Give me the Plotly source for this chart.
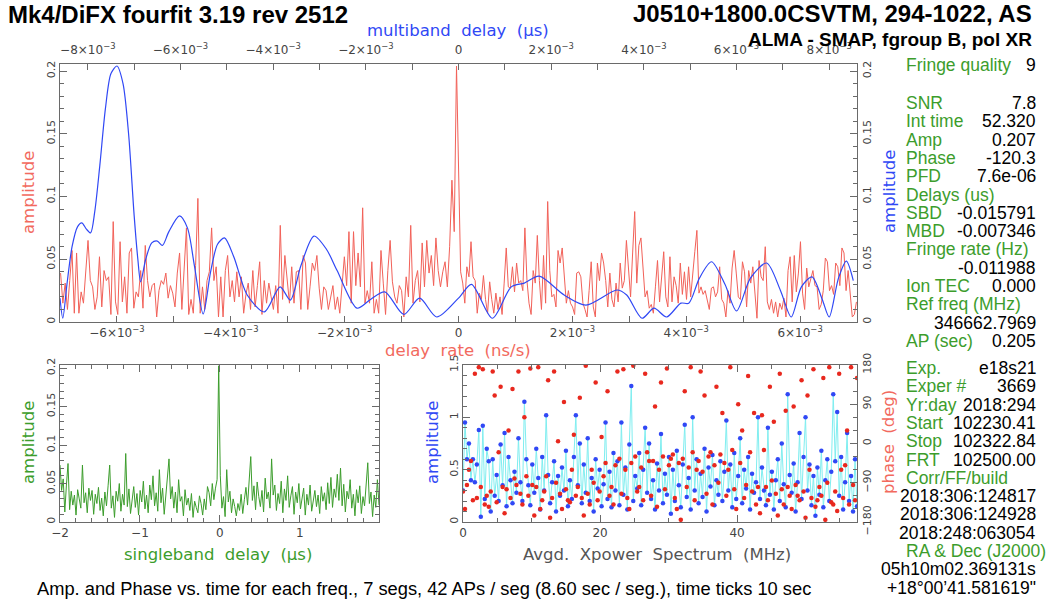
import numpy as np
import plotly.graph_objects as go

W, H = 1048, 603

# ---------------- data ----------------
# delay-rate spectrum (ns/s), left of the peak, the peak, right of the peak
rate_amp_left = [
    0.039, 0.015, 0.031, 0.010, 0.033, 0.057, 0.007, 0.055, 0.007, 0.024,
    0.015, 0.041, 0.065, 0.033, 0.028, 0.010, 0.020, 0.052, 0.012, 0.041,
    0.033, 0.036, 0.006, 0.080, 0.016, 0.006, 0.064, 0.016, 0.036, 0.007,
    0.055, 0.059, 0.011, 0.024, 0.020, 0.041, 0.011, 0.061, 0.033, 0.020,
    0.029, 0.031, 0.004, 0.025, 0.033, 0.030, 0.039, 0.019, 0.029, 0.023,
    0.012, 0.039, 0.055, 0.010, 0.041, 0.075, 0.006, 0.018, 0.007, 0.045,
    0.0985, 0.007, 0.028, 0.010, 0.033, 0.040, 0.075, 0.033, 0.044, 0.004,
    0.036, 0.004, 0.041, 0.053, 0.020, 0.033, 0.016, 0.040, 0.020, 0.036,
    0.007, 0.022, 0.031, 0.010, 0.041, 0.012, 0.029, 0.048, 0.006, 0.033,
    0.015, 0.031, 0.020, 0.010, 0.029, 0.007, 0.077, 0.018, 0.053, 0.033,
    0.015, 0.044, 0.015, 0.040, 0.041, 0.010, 0.053, 0.047, 0.010, 0.028,
    0.047, 0.041, 0.053, 0.027, 0.010, 0.028, 0.025, 0.010, 0.020, 0.029,
    0.010, 0.020, 0.007, 0.033, 0.052, 0.029, 0.072, 0.015, 0.072, 0.029,
    0.055, 0.028, 0.091, 0.015, 0.025, 0.015, 0.048, 0.007, 0.018, 0.007,
    0.057, 0.031, 0.006, 0.041, 0.065, 0.032, 0.020, 0.015, 0.029, 0.025,
    0.004, 0.036, 0.020, 0.077, 0.015, 0.033, 0.041, 0.016, 0.063, 0.028,
    0.065, 0.039, 0.053, 0.029, 0.067, 0.041, 0.028, 0.040, 0.048, 0.028,
    0.060, 0.113, 0.072,
]
rate_amp_peak = 0.204
rate_peak_pos = -0.035e-3
rate_amp_right = [
    0.115, 0.040,
    0.031, 0.015, 0.044, 0.036, 0.064, 0.036, 0.033, 0.007, 0.023, 0.018,
    0.037, 0.018, 0.007, 0.032, 0.018, 0.007, 0.023, 0.010, 0.020, 0.006,
    0.031, 0.059, 0.028, 0.027, 0.044, 0.024, 0.047, 0.031, 0.033, 0.025,
    0.075, 0.033, 0.015, 0.006, 0.041, 0.031, 0.069, 0.033, 0.010, 0.053,
    0.015, 0.096, 0.041, 0.020, 0.022, 0.012, 0.057, 0.047, 0.059, 0.039,
    0.015, 0.025, 0.015, 0.012, 0.006, 0.039, 0.040, 0.036, 0.015, 0.010,
    0.004, 0.025, 0.048, 0.012, 0.004, 0.047, 0.033, 0.055, 0.047, 0.033,
    0.012, 0.039, 0.018, 0.012, 0.031, 0.016, 0.047, 0.027, 0.033, 0.065,
    0.039, 0.020, 0.055, 0.088, 0.031, 0.061, 0.067, 0.044, 0.020, 0.025,
    0.011, 0.014, 0.007, 0.028, 0.049, 0.016, 0.033, 0.056, 0.020, 0.012,
    0.052, 0.016, 0.036, 0.029, 0.015, 0.047, 0.022, 0.040, 0.018, 0.044,
    0.020, 0.041, 0.056, 0.073, 0.023, 0.028, 0.022, 0.025, 0.018, 0.010,
    0.027, 0.028, 0.020, 0.024, 0.044, 0.018, 0.015, 0.004, 0.025, 0.015,
    0.043, 0.057, 0.039, 0.020, 0.018, 0.048, 0.040, 0.012, 0.041, 0.031,
    0.044, 0.025, 0.003, 0.049, 0.036, 0.033, 0.060, 0.016, 0.010, 0.018,
    0.007, 0.016, 0.004, 0.015, 0.010, 0.019, 0.004, 0.041, 0.052, 0.016,
    0.053, 0.024, 0.039, 0.064, 0.023, 0.010, 0.043, 0.028, 0.035, 0.041,
    0.029, 0.028, 0.010, 0.014, 0.025, 0.051, 0.048, 0.025, 0.029, 0.022,
    0.047, 0.044, 0.029, 0.059, 0.055, 0.025, 0.041, 0.020, 0.004, 0.006,
    0.016,
]
rate_min, rate_max = -6.99e-3, 6.99e-3

# multiband delay (us) and amplitude
mbd_delay = [
    -8.60e-3, -8.54e-3, -8.45e-3, -8.34e-3, -8.22e-3, -8.13e-3, -8.03e-3, -7.94e-3,
    -7.85e-3, -7.74e-3, -7.62e-3, -7.50e-3, -7.37e-3, -7.24e-3, -7.12e-3, -7.00e-3,
    -6.92e-3, -6.86e-3, -6.75e-3, -6.62e-3, -6.50e-3, -6.39e-3, -6.25e-3, -6.02e-3,
    -5.85e-3, -5.70e-3, -5.51e-3, -5.35e-3, -5.20e-3, -5.05e-3, -4.85e-3, -4.56e-3,
    -4.19e-3, -3.85e-3, -3.63e-3, -3.40e-3, -3.12e-3, -2.85e-3, -2.62e-3, -2.19e-3,
    -1.90e-3, -1.59e-3, -1.18e-3, -0.84e-3, -0.47e-3, 0.00e-3, 0.28e-3, 0.73e-3,
    1.14e-3, 1.42e-3, 1.74e-3, 2.28e-3, 2.75e-3, 3.42e-3, 3.63e-3, 3.96e-3,
    4.22e-3, 4.49e-3, 4.80e-3, 4.97e-3, 5.20e-3, 5.46e-3, 5.75e-3, 6.00e-3,
    6.30e-3, 6.65e-3, 6.95e-3, 7.18e-3, 7.40e-3, 7.63e-3, 7.85e-3, 8.00e-3,
    8.20e-3, 8.37e-3, 8.52e-3,
]
mbd_amp = [
    0.019, 0.003, 0.030, 0.060, 0.076, 0.079, 0.074, 0.071,
    0.088, 0.125, 0.170, 0.198, 0.204, 0.190, 0.150, 0.085,
    0.050, 0.032, 0.050, 0.063, 0.0645, 0.061, 0.072, 0.0845,
    0.075, 0.045, 0.0064, 0.040, 0.062, 0.067, 0.052, 0.0215,
    0.008, 0.028, 0.0175, 0.045, 0.0685, 0.058, 0.041, 0.011,
    0.018, 0.024, 0.006, 0.019, 0.004, 0.019, 0.030, 0.003,
    0.028, 0.031, 0.0365, 0.0215, 0.0135, 0.0255, 0.0215, 0.003,
    0.011, 0.004, 0.015, 0.015, 0.035, 0.048, 0.030, 0.0088,
    0.035, 0.047, 0.025, 0.004, 0.028, 0.036, 0.018, 0.004,
    0.035, 0.0485, 0.033,
]

# singleband delay (us) spectrum
sbd_min, sbd_max = -2.0, 1.99
sbd_amp = [
    0.074, 0.041, 0.056, 0.013, 0.048, 0.076, 0.016, 0.040, 0.022, 0.035,
    0.009, 0.042, 0.030, 0.018, 0.074, 0.025, 0.038, 0.012, 0.044, 0.028,
    0.041, 0.010, 0.036, 0.024, 0.045, 0.015, 0.031, 0.008, 0.039, 0.021,
    0.047, 0.074, 0.018, 0.034, 0.006, 0.040, 0.027, 0.050, 0.014, 0.036,
    0.022, 0.089, 0.020, 0.043, 0.011, 0.032, 0.046, 0.019, 0.037, 0.009,
    0.041, 0.026, 0.053, 0.017, 0.035, 0.012, 0.048, 0.029, 0.060, 0.021,
    0.038, 0.014, 0.068, 0.025, 0.044, 0.010, 0.036, 0.052, 0.082, 0.030,
    0.046, 0.018, 0.039, 0.012, 0.055, 0.027, 0.033, 0.008, 0.042, 0.022,
    0.031, 0.015, 0.037, 0.006, 0.027, 0.019, 0.012, 0.034, 0.024, 0.009,
    0.030, 0.016, 0.046, 0.038, 0.021, 0.050, 0.029, 0.044, 0.055, 0.203,
    0.060, 0.018, 0.033, 0.007, 0.068, 0.026, 0.040, 0.012, 0.030, 0.020,
    0.008, 0.024, 0.015, 0.036, 0.011, 0.029, 0.045, 0.022, 0.063, 0.085,
    0.028, 0.047, 0.016, 0.052, 0.033, 0.020, 0.041, 0.013, 0.057, 0.030,
    0.039, 0.018, 0.082, 0.035, 0.048, 0.015, 0.037, 0.024, 0.053, 0.012,
    0.043, 0.028, 0.060, 0.019, 0.034, 0.046, 0.010, 0.039, 0.025, 0.050,
    0.017, 0.031, 0.044, 0.009, 0.036, 0.022, 0.048, 0.014, 0.030, 0.041,
    0.020, 0.035, 0.011, 0.046, 0.027, 0.038, 0.016, 0.051, 0.024, 0.058,
    0.019, 0.043, 0.032, 0.062, 0.028, 0.070, 0.021, 0.049, 0.013, 0.040,
    0.030, 0.055, 0.018, 0.036, 0.008, 0.042, 0.025, 0.047, 0.011, 0.033,
    0.021, 0.050, 0.077, 0.024, 0.039, 0.007, 0.035, 0.019, 0.055, 0.022,
]

# averaged cross-power spectrum (MHz): amplitude and phase (deg)
xp_min, xp_max = 0.0, 57.5
xp_amp = [
    0.30, 0.95, 0.60, 0.75, 0.40, 0.60, 0.38, 0.55, 0.88, 0.05,
    0.92, 0.22, 0.70, 0.58, 0.10, 0.60, 0.25, 0.45, 0.20, 0.74,
    0.35, 0.85, 0.15, 0.62, 0.40, 0.18, 0.48, 0.28, 0.80, 0.38,
    0.20, 1.15, 0.60, 0.35, 0.16, 0.55, 0.28, 0.70, 0.42, 0.12,
    0.62, 0.30, 1.02, 0.45, 0.18, 0.38, 0.58, 0.10, 0.44, 0.25,
    0.52, 0.30, 0.68, 0.15, 0.40, 0.22, 0.62, 1.02, 0.35, 0.75,
    0.18, 0.55, 0.28, 0.80, 0.20, 0.42, 0.10, 0.60, 0.32, 0.50,
    0.15, 0.36, 0.95, 0.22, 0.48, 0.14, 0.66, 0.30, 0.58, 0.16,
    0.95, 0.26, 0.52, 0.12, 0.74, 1.30, 0.20, 0.44, 0.32, 0.66,
    0.16, 0.50, 0.90, 0.28, 0.75, 0.22, 0.40, 0.12, 0.56, 0.30,
    0.84, 0.18, 0.46, 0.26, 0.62, 0.08, 0.50, 0.20, 0.68, 0.35,
    0.14, 0.55, 0.93, 0.24, 0.42, 0.12, 1.00, 0.30, 0.60, 0.18,
    0.46, 0.24, 0.70, 0.10, 0.52, 0.34, 0.64, 0.16, 0.40, 0.26,
    0.58, 0.20, 0.48, 0.97, 0.30, 0.55, 0.14, 0.66, 0.22, 0.44,
    0.80, 0.18, 0.50, 0.32, 0.62, 0.12, 0.46, 0.28, 0.38, 1.00,
    0.22, 0.52, 0.30, 0.16, 0.90, 0.26, 0.48, 0.12, 0.40, 0.60,
    0.20, 0.75, 0.36, 0.14, 1.22, 0.45, 0.28, 0.56, 0.10, 0.38,
    0.85, 0.22, 0.62, 1.00, 0.30, 0.55, 0.16, 0.44, 0.06, 0.52,
    0.26, 0.68, 0.14, 0.40, 0.60, 0.20, 0.48, 1.22, 0.58, 1.05,
    0.25, 0.62, 0.12, 0.38, 0.85, 0.20, 0.44, 0.10, 0.60, 0.15,
]
xp_phase = [
    -110, -150, -95, -60, -40, -130, 160, -125, 175, -100,
    170, -140, -120, -145, -110, 165, 110, -135, -20, 130,
    -100, -160, -105, 30, -125, 125, -80, -95, 165, -115,
    -140, 60, -75, -120, 172, -95, -165, -100, 175, -150,
    -130, -110, -75, 145, -170, -125, 165, -90, 5, -115,
    -150, 95, -105, -130, -135, -60, 20, -120, -100, 105,
    -125, -165, 178, -115, -140, -60, -90, 140, -130, -110,
    15, -75, -45, 120, -120, -100, -140, -50, 165, -35,
    -115, 170, -60, -125, -150, -45, 178, -30, -110, -100,
    -55, -130, 160, -20, -40, -120, -40, 85, -145, -60,
    140, -30, -105, 172, -50, -35, -25, -125, -150, -45,
    -175, -35, 120, -100, -55, 175, -20, -130, -60, -40,
    165, -65, 110, -115, -30, -20, -140, -50, 130, -90,
    -25, 70, -45, -120, -60, 175, -15, -105, -150, 90,
    -45, 30, -125, -95, 155, -20, -110, 70, -140, -100,
    -160, 65, -15, -100, -130, 130, -85, 50, -115, -165,
    160, -105, -140, 75, -100, -120, -150, 85, -95, -120,
    -130, 145, -110, -170, 110, -60, -125, 170, -145, -130,
    -100, -120, 150, -175, -90, 175, -135, -140, -110, -155,
    160, -60, -125, -50, 30, -140, 175, -95, -130, 150,
]

# fringe summary text block (a number entry is extra spacing, in lines)
summary_rows = [
    ("Fringe quality", "9"),
    1.08,
    ("SNR", "7.8"),
    ("Int time", "52.320"),
    ("Amp", "0.207"),
    ("Phase", "-120.3"),
    ("PFD", "7.6e-06"),
    ("Delays (us)", ""),
    ("SBD", "-0.015791"),
    ("MBD", "-0.007346"),
    ("Fringe rate (Hz)", ""),
    ("", "-0.011988"),
    ("Ion TEC", "0.000"),
    ("Ref freq (MHz)", ""),
    ("", "346662.7969"),
    ("AP (sec)", "0.205"),
    0.48,
    ("Exp.", "e18s21"),
    ("Exper #", "3669"),
    ("Yr:day", "2018:294"),
    ("Start", "102230.41"),
    ("Stop", "102322.84"),
    ("FRT", "102500.00"),
    ("Corr/FF/build", ""),
    ("", "2018:306:124817"),
    ("", "2018:306:124928"),
    ("", "2018:248:063054"),
    ("RA &amp; Dec (J2000)", ""),
    ("", "05h10m02.369131s"),
    ("", "+18°00’41.581619\""),
]

# ---------------- styling ----------------
RED = "#f0463c"
RED_TXT = "#f26a5e"
BLUE = "#3048f5"
GREEN = "#3c9d2c"
CYAN = "#80eef0"
AXIS = "#6a6a6a"
TICKTXT = "#444444"
PG_FONT = "DejaVu Sans"
HV_FONT = "Liberation Sans"


def fx(x):
    return x / W


def fy(y):
    return 1 - y / H


def sci(k):
    if k == 0:
        return "0"
    sign = "−" if k < 0 else ""
    return f"{sign}{abs(k)}×10<sup>−3</sup>"


tickfont = dict(family=PG_FONT, size=12, color=TICKTXT)
ytickfont = dict(family=PG_FONT, size=11, color=TICKTXT)

fig = go.Figure()

# delay-rate spectrum (red)
x_left = np.linspace(rate_min, rate_peak_pos, len(rate_amp_left) + 1)
x_right = np.linspace(rate_peak_pos, rate_max, len(rate_amp_right) + 1)[1:]
rate_x = np.concatenate([x_left, x_right])
rate_y = rate_amp_left + [rate_amp_peak] + rate_amp_right
fig.add_trace(go.Scatter(x=rate_x, y=rate_y, mode="lines",
                         line=dict(color=RED, width=1), xaxis="x", yaxis="y",
                         opacity=0.85, hoverinfo="skip"))

# multiband delay function (blue)
fig.add_trace(go.Scatter(x=mbd_delay, y=mbd_amp, mode="lines",
                         line=dict(color=BLUE, width=1.2, shape="spline", smoothing=0.8),
                         xaxis="x2", yaxis="y2", hoverinfo="skip"))

# singleband delay function (green)
sbd_x = np.linspace(sbd_min, sbd_max, len(sbd_amp))
fig.add_trace(go.Scatter(x=sbd_x, y=sbd_amp, mode="lines",
                         line=dict(color=GREEN, width=1), xaxis="x3", yaxis="y3",
                         hoverinfo="skip"))

# cross-power spectrum
xp_x = np.linspace(xp_min, xp_max, len(xp_amp))
fig.add_trace(go.Scatter(x=xp_x, y=xp_amp, mode="lines+markers",
                         line=dict(color=CYAN, width=1),
                         marker=dict(color=BLUE, size=4.5, line=dict(width=0)),
                         xaxis="x4", yaxis="y4", hoverinfo="skip"))
fig.add_trace(go.Scatter(x=xp_x, y=xp_phase, mode="markers",
                         marker=dict(color="#e8281e", size=4.5, line=dict(width=0)),
                         xaxis="x5", yaxis="y5", hoverinfo="skip"))

common = dict(showline=True, linecolor=AXIS, linewidth=1, ticks="inside",
              tickcolor=AXIS, tickwidth=1, showgrid=False, zeroline=False,
              automargin=False)

main_dom_x = [fx(60), fx(857)]
main_dom_y = [fy(322), fy(64)]
ll_dom_x = [fx(60), fx(379)]
lr_dom_x = [fx(463), fx(857)]
low_dom_y = [fy(522), fy(365)]

amp_ticks = [0, 0.05, 0.1, 0.15, 0.2]
amp_text = ["0", "0.05", "0.1", "0.15", "0.2"]

layout = dict(
    width=W, height=H, margin=dict(l=0, r=0, t=0, b=0, autoexpand=False),
    paper_bgcolor="white", plot_bgcolor="white", showlegend=False,
    xaxis=dict(common, domain=main_dom_x, anchor="y", range=[-7e-3, 7e-3],
               tickvals=[k * 1e-3 for k in range(-6, 7, 2)],
               ticktext=[sci(k) for k in range(-6, 7, 2)], ticklen=6,
               minor=dict(tickvals=[k * 1e-3 for k in range(-5, 6, 2)], ticklen=6,
                          ticks="inside", tickcolor=AXIS),
               tickfont=tickfont),
    xaxis2=dict(common, overlaying="x", side="top", anchor="y",
                range=[-8.6e-3, 8.6e-3],
                tickvals=[k * 1e-3 for k in range(-8, 9, 2)],
                ticktext=[sci(k) for k in range(-8, 9, 2)], ticklen=6,
                ticklabelstandoff=4,
                minor=dict(tickvals=[k * 1e-3 for k in range(-7, 8, 2)], ticklen=6,
                           ticks="inside", tickcolor=AXIS),
                tickfont=tickfont),
    yaxis=dict(common, domain=main_dom_y, anchor="x", range=[0, 0.2056],
               tickvals=amp_ticks, ticktext=amp_text, tickangle=-90, ticklen=7,
               minor=dict(dtick=0.01, tick0=0, ticklen=4, ticks="inside", tickcolor=AXIS),
               tickfont=ytickfont),
    yaxis2=dict(common, overlaying="y", side="right", anchor="x", range=[0, 0.2056],
                tickvals=amp_ticks, ticktext=amp_text, tickangle=-90, ticklen=7,
                minor=dict(dtick=0.01, tick0=0, ticklen=4, ticks="inside", tickcolor=AXIS),
                tickfont=ytickfont),
    xaxis3=dict(common, domain=ll_dom_x, anchor="y3", range=[sbd_min, sbd_max],
                tickvals=[-2, -1, 0, 1], ticktext=["−2", "−1", "0", "1"], ticklen=7,
                mirror="ticks",
                minor=dict(dtick=0.2, tick0=0, ticklen=4, ticks="inside", tickcolor=AXIS),
                tickfont=tickfont),
    yaxis3=dict(common, domain=low_dom_y, anchor="x3", range=[0, 0.204],
                tickvals=amp_ticks, ticktext=amp_text, tickangle=-90, ticklen=7,
                mirror="ticks",
                minor=dict(dtick=0.01, tick0=0, ticklen=4, ticks="inside", tickcolor=AXIS),
                tickfont=ytickfont),
    xaxis4=dict(common, domain=lr_dom_x, anchor="y4", range=[xp_min, xp_max],
                tickvals=[0, 20, 40], ticklen=7, mirror="ticks",
                minor=dict(dtick=5, tick0=0, ticklen=4, ticks="inside", tickcolor=AXIS),
                tickfont=tickfont),
    yaxis4=dict(common, domain=low_dom_y, anchor="x4", range=[0, 1.5],
                tickvals=[0, 0.5, 1, 1.5], ticktext=["0", "0.5", "1", "1.5"],
                tickangle=-90, ticklen=7,
                minor=dict(dtick=0.1, tick0=0, ticklen=4, ticks="inside", tickcolor=AXIS),
                tickfont=ytickfont),
    xaxis5=dict(overlaying="x4", anchor="y4", range=[xp_min, xp_max], visible=False),
    yaxis5=dict(common, overlaying="y4", side="right", anchor="x4", range=[-180, 180],
                tickvals=[-180, -90, 0, 90, 180],
                ticktext=["−180", "−90", "0", "90", "180"],
                tickangle=-90, ticklen=7,
                minor=dict(dtick=30, tick0=0, ticklen=4, ticks="inside", tickcolor=AXIS),
                tickfont=ytickfont),
)
fig.update_layout(**layout)

ann = []


def text(x, y, s, color="black", size=15, family=PG_FONT, xanchor="center",
         angle=0, bold=False):
    if bold:
        s = f"<b>{s}</b>"
    ann.append(dict(x=fx(x), y=fy(y), xref="paper", yref="paper", text=s,
                    showarrow=False, xanchor=xanchor, yanchor="middle",
                    textangle=angle, font=dict(family=family, size=size, color=color)))


def pg(s):
    # plotting-package style wide word spacing
    return s.replace(" ", "&nbsp;&nbsp;")


# titles
text(6, 15, "Mk4/DiFX fourfit 3.19 rev 2512", size=24, family=HV_FONT,
     xanchor="left", bold=True)
text(1034, 13, "J0510+1800.0CSVTM, 294-1022, AS", size=24, family=HV_FONT,
     xanchor="right", bold=True)
text(1034, 39, "ALMA - SMAP, fgroup B, pol XR", size=19, family=HV_FONT,
     xanchor="right", bold=True)

# axis titles
text(458, 31, pg("multiband delay (μs)"), color=BLUE, size=16.5)
text(458, 350, pg("delay rate (ns/s)"), color=RED_TXT, size=16.5)
text(28, 193, "amplitude", color=RED_TXT, size=16.5, angle=-90)
text(889, 192, "amplitude", color=BLUE, size=16.5, angle=-90)
text(28, 443, "amplitude", color=GREEN, size=16.5, angle=-90)
text(218, 554, pg("singleband delay (μs)"), color=GREEN, size=16.5)
text(432, 443, "amplitude", color=BLUE, size=16.5, angle=-90)
text(657, 554, "Avgd. Xpower Spectrum (MHz)".replace(" ", "&nbsp;&nbsp;"),
     color="#555555", size=16.5)
text(888, 442, pg("phase (deg)"), color=RED_TXT, size=16.5, angle=-90)

# caption
text(424, 588, "Amp. and Phase vs. time for each freq., 7 segs, 42 APs / seg "
               "(8.60 sec / seg.), time ticks 10 sec",
     size=18.3, family=HV_FONT)

# summary block
row_y = 65.0
step = 18.3
for row in summary_rows:
    if not isinstance(row, tuple):
        row_y += step * row
        continue
    label, value = row
    if label:
        text(904, row_y, label, color=GREEN, size=17.5, family=HV_FONT, xanchor="left")
    if value:
        text(1038, row_y, value, color="black", size=17.5, family=HV_FONT, xanchor="right")
    row_y += step

fig.update_layout(annotations=ann)
fig.write_html("out.html")
